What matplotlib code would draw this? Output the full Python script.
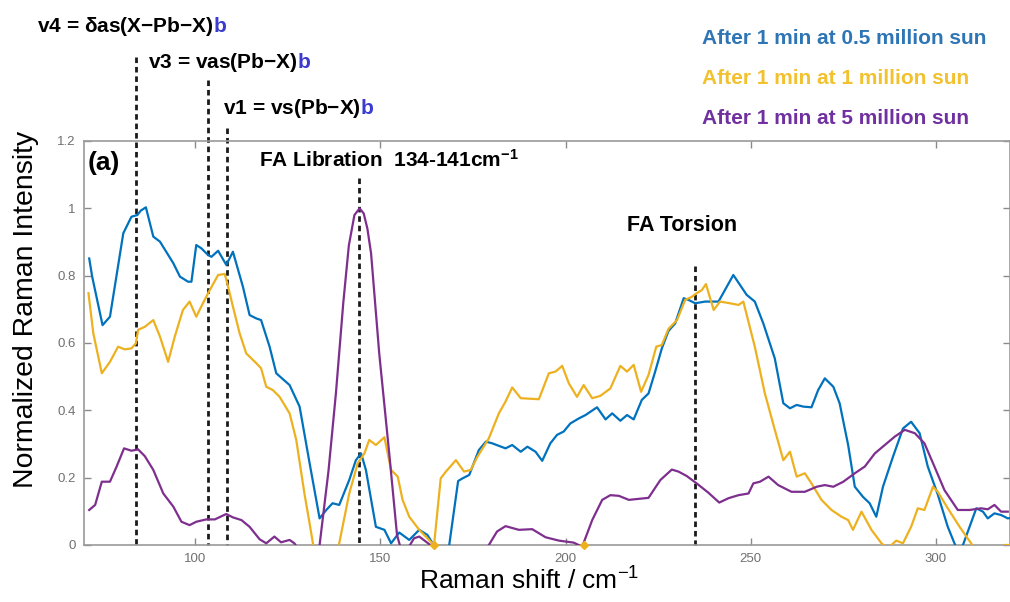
import matplotlib
matplotlib.use("Agg")
import matplotlib.pyplot as plt

plt.rcParams['font.family'] = ['Liberation Sans', 'DejaVu Sans']
plt.rcParams['mathtext.fontset'] = 'custom'
plt.rcParams['mathtext.rm'] = 'Liberation Sans'
plt.rcParams['mathtext.bf'] = 'Liberation Sans:bold'
plt.rcParams['mathtext.default'] = 'regular'

# ---- spectra -------------------------------------------------------------
x_05sun = [71.4, 72.2, 75.0, 77.0, 80.6, 82.8, 84.4, 85.3, 86.7, 88.7, 90.5, 94.1, 95.9, 98.1,
           99.0, 100.3, 101.7, 103.5, 104.4, 106.2, 108.4, 110.2, 112.9, 114.7, 116.5, 117.8,
           120.1, 121.9, 125.5, 128.2, 130.9, 133.6, 135.4, 137.1, 138.9, 141.6, 143.4, 144.8,
           146.1, 148.8, 151.1, 152.9, 155.1, 157.8, 160.5, 162.7, 164.1, 166.3, 168.6, 171.0,
           172.2, 174.0, 176.6, 178.5, 180.2, 183.8, 185.6, 187.9, 189.7, 191.9, 193.7, 195.9,
           197.7, 199.5, 201.3, 203.6, 205.4, 208.5, 210.8, 212.6, 214.8, 216.6, 218.4, 220.6,
           222.4, 224.2, 226.0, 227.8, 229.6, 231.9, 233.2, 235.0, 237.7, 241.3, 245.3, 248.9,
           251.1, 253.4, 256.5, 258.8, 260.6, 262.4, 264.2, 266.4, 268.2, 270.0, 272.3, 274.0,
           276.3, 278.1, 280.3, 282.1, 283.9, 285.7, 288.4, 291.1, 293.3, 295.6, 297.8, 300.5,
           303.2, 305.0, 306.2, 307.3, 310.9, 312.7, 314.0, 315.8, 317.6, 319.4, 320.0]
y_05sun = [0.851, 0.797, 0.653, 0.678, 0.926, 0.975, 0.980, 0.993, 1.003, 0.916, 0.901, 0.837,
           0.797, 0.782, 0.782, 0.891, 0.881, 0.861, 0.856, 0.874, 0.832, 0.871, 0.767, 0.683,
           0.673, 0.668, 0.589, 0.510, 0.475, 0.411, 0.243, 0.079, 0.104, 0.124, 0.119, 0.193,
           0.252, 0.272, 0.223, 0.054, 0.045, 0.005, 0.037, 0.015, 0.045, 0.030, 0.005, -0.05,
           0.0, 0.190, 0.198, 0.208, 0.282, 0.307, 0.302, 0.287, 0.297, 0.277, 0.292, 0.277,
           0.250, 0.302, 0.327, 0.337, 0.361, 0.376, 0.386, 0.409, 0.373, 0.391, 0.369, 0.386,
           0.373, 0.431, 0.450, 0.515, 0.584, 0.636, 0.658, 0.733, 0.728, 0.718, 0.723, 0.723,
           0.802, 0.743, 0.723, 0.658, 0.554, 0.421, 0.406, 0.416, 0.411, 0.409, 0.460, 0.495,
           0.470, 0.421, 0.297, 0.173, 0.143, 0.124, 0.084, 0.173, 0.262, 0.346, 0.366, 0.332,
           0.233, 0.150, 0.054, 0.005, -0.03, 0.0, 0.109, 0.099, 0.079, 0.094, 0.089, 0.079, 0.080]

x_1sun = [71.2, 72.5, 74.8, 77.0, 79.2, 81.0, 82.8, 84.0, 84.6, 86.4, 88.7, 90.5, 92.7, 94.5,
          96.7, 98.5, 100.3, 102.1, 103.5, 106.2, 108.0, 108.9, 110.2, 112.0, 113.8, 116.5,
          117.8, 119.2, 121.0, 122.8, 125.5, 127.3, 129.5, 130.9, 131.8, 133.5, 136.5, 138.9,
          141.6, 143.9, 145.7, 147.0, 148.8, 151.1, 152.9, 154.7, 156.0, 157.8, 160.5, 162.7,
          164.5, 166.3, 167.7, 170.4, 172.6, 174.4, 176.2, 179.3, 182.0, 183.8, 185.6, 187.9,
          192.8, 195.5, 197.3, 199.1, 200.9, 203.1, 204.9, 207.2, 209.4, 212.1, 214.8, 216.6,
          218.4, 220.4, 222.4, 224.5, 226.0, 227.8, 230.1, 232.3, 234.1, 235.4, 236.8, 237.9,
          240.0, 241.7, 244.4, 246.7, 248.0, 251.1, 253.8, 256.5, 258.8, 260.6, 262.4, 264.6,
          266.4, 269.1, 271.8, 274.5, 276.3, 277.6, 279.9, 282.6, 285.3, 287.0, 289.3, 291.1,
          293.3, 295.1, 296.9, 299.2, 300.5, 303.2, 306.4, 309.5, 312.0, 316.0, 318.5, 320.0]
y_1sun = [0.748, 0.629, 0.510, 0.544, 0.589, 0.581, 0.584, 0.599, 0.639, 0.648, 0.668, 0.619,
          0.544, 0.619, 0.698, 0.723, 0.678, 0.718, 0.748, 0.802, 0.805, 0.767, 0.708, 0.629,
          0.569, 0.540, 0.525, 0.470, 0.460, 0.440, 0.391, 0.312, 0.153, 0.064, 0.005, -0.10,
          -0.10, 0.005, 0.153, 0.243, 0.272, 0.312, 0.297, 0.320, 0.223, 0.203, 0.134, 0.084,
          0.045, 0.020, 0.0, 0.198, 0.218, 0.252, 0.218, 0.223, 0.262, 0.317, 0.391, 0.426,
          0.468, 0.436, 0.433, 0.510, 0.515, 0.532, 0.480, 0.440, 0.475, 0.436, 0.443, 0.465,
          0.532, 0.515, 0.535, 0.455, 0.505, 0.589, 0.594, 0.642, 0.668, 0.728, 0.737, 0.748,
          0.757, 0.775, 0.698, 0.723, 0.718, 0.713, 0.723, 0.589, 0.451, 0.342, 0.252, 0.277,
          0.203, 0.213, 0.183, 0.134, 0.104, 0.084, 0.074, 0.045, 0.099, 0.045, 0.005, -0.01,
          0.013, 0.005, 0.054, 0.109, 0.104, 0.173, 0.158, 0.109, 0.054, 0.005, -0.05, -0.05,
          0.0, 0.0]

x_5sun = [71.4, 73.0, 74.8, 77.0, 78.8, 80.8, 82.8, 84.6, 86.4, 88.7, 91.4, 94.1, 96.3, 98.5,
          100.3, 103.0, 105.3, 108.4, 110.2, 112.5, 114.7, 117.4, 119.2, 121.4, 123.2, 125.5,
          126.8, 130.0, 133.6, 136.0, 138.0, 140.0, 141.5, 143.0, 144.4, 145.5, 146.5, 147.5,
          149.7, 152.4, 154.5, 156.0, 158.0, 159.1, 160.5, 162.3, 163.5, 170.0, 178.0, 179.3,
          181.5, 183.8, 187.4, 191.0, 194.6, 198.2, 202.2, 204.5, 207.2, 209.9, 212.1, 214.4,
          217.1, 219.7, 222.4, 225.6, 228.7, 230.5, 232.7, 235.4, 238.6, 241.5, 244.0, 246.7,
          249.4, 250.7, 252.5, 254.8, 257.4, 261.0, 264.6, 267.8, 270.0, 272.3, 275.0, 278.1,
          280.8, 283.5, 286.2, 288.9, 291.6, 294.3, 296.9, 299.6, 302.3, 305.9, 309.1, 312.2,
          314.0, 315.8, 317.6, 319.4]
y_5sun = [0.104, 0.119, 0.188, 0.188, 0.233, 0.287, 0.280, 0.284, 0.264, 0.223, 0.153, 0.114,
          0.069, 0.059, 0.069, 0.076, 0.076, 0.092, 0.082, 0.074, 0.054, 0.017, 0.005, 0.025,
          0.008, 0.015, 0.005, -0.05, 0.0, 0.22, 0.45, 0.72, 0.89, 0.98, 1.0, 0.985, 0.94,
          0.866, 0.569, 0.272, 0.03, -0.03, 0.0, 0.020, 0.025, 0.010, 0.0, -0.05, -0.02, 0.0,
          0.040, 0.056, 0.045, 0.047, 0.023, 0.013, 0.007, -0.005, 0.074, 0.134, 0.148, 0.146,
          0.134, 0.137, 0.140, 0.193, 0.224, 0.218, 0.205, 0.183, 0.155, 0.126, 0.139, 0.148,
          0.153, 0.183, 0.188, 0.203, 0.178, 0.158, 0.158, 0.173, 0.178, 0.173, 0.188, 0.213,
          0.233, 0.272, 0.297, 0.322, 0.342, 0.332, 0.302, 0.233, 0.163, 0.104, 0.104, 0.109,
          0.106, 0.119, 0.099, 0.099]

zero_marker_x = [164.5, 205.0]

series_labels = ["After 1 min at 0.5 million sun",
                 "After 1 min at 1 million sun",
                 "After 1 min at 5 million sun"]
line_colors = ["#0072BD", "#EDB120", "#7E2F8E"]
label_colors = ["#2E75B6", "#F2C12E", "#7030A0"]

# band assignments: (position, top of the marker line)
band_x = [84.1, 103.4, 108.7, 144.3, 235.0]
band_top = [1.45, 1.38, 1.24, 1.09, 0.83]
mode_labels = [r"v4 = δas(X$-$Pb$-$X)", r"v3 = vas(Pb$-$X)", r"v1 = vs(Pb$-$X)"]

x_ticks = [100, 150, 200, 250, 300]
y_ticks = [0, 0.2, 0.4, 0.6, 0.8, 1.0, 1.2]
y_tick_labels = ["0", "0.2", "0.4", "0.6", "0.8", "1", "1.2"]

W, H = 1010, 602

# ---- figure ---------------------------------------------------------------
fig = plt.figure(figsize=(W / 100, H / 100), dpi=100)
ax = fig.add_axes([0.0832, 0.0947, 0.9168, 0.6711])

for xs, ys, c in zip([x_05sun, x_1sun, x_5sun], [y_05sun, y_1sun, y_5sun], line_colors):
    ax.plot(xs, ys, color=c, lw=1.6, zorder=3)
ax.plot(zero_marker_x, [0] * len(zero_marker_x), ls='none', marker='D', ms=4,
        color=line_colors[1], zorder=4, clip_on=False)

for bx, bt in zip(band_x, band_top):
    ax.plot([bx, bx], [bt, 0], color='#1a1a1a', lw=2.0, ls=(0, (2.0, 1.4)),
            clip_on=False, zorder=2)

ax.set_xlim(70, 320)
ax.set_ylim(0, 1.2)
ax.set_xticks(x_ticks)
ax.set_xticklabels([str(t) for t in x_ticks])
ax.set_yticks(y_ticks)
ax.set_yticklabels(y_tick_labels)
ax.tick_params(direction='in', length=5, width=1.0, color='#8a8a8a', labelcolor='#707070',
               labelsize=9.5, top=True, right=True, pad=6)
for s in ax.spines.values():
    s.set_color('#9a9a9a')
    s.set_linewidth(1.2)

ax.set_xlabel(r"Raman shift / cm$^{-1}$", fontsize=19)
ax.set_ylabel("Normalized Raman Intensity", fontsize=20.4)
ax.xaxis.set_label_coords(0.4806, -0.0545)
ax.yaxis.set_label_coords(-0.049, 0.582)

# mode annotations in figure pixels (bold black with blue suffix)
blue_b = "#3b3bd0"
mode_pos = [(37, 26), (148, 63), (223, 109)]
fig.canvas.draw()
for (px, py), txt in zip(mode_pos, mode_labels):
    t = fig.text(px / W, 1 - py / H, txt, fontsize=15, fontweight='bold',
                 ha='left', va='center', color='black')
    ax.annotate("b", xy=(1.0, 0.5), xycoords=t, va='center', ha='left', fontsize=15,
                fontweight='bold', color=blue_b, annotation_clip=False)

fig.text(88 / W, 1 - 163 / H, "(a)", fontsize=19, fontweight='bold', ha='left', va='center')
fig.text(389 / W, 1 - 160 / H, r"FA Libration  134-141cm$^{\mathbf{-1}}$",
         fontsize=15, fontweight='bold', ha='center', va='center')
fig.text(682 / W, 1 - 225 / H, "FA Torsion", fontsize=15.5, fontweight='bold',
         ha='center', va='center')

legend_y = [38, 78, 118]
for lbl, col, ly in zip(series_labels, label_colors, legend_y):
    fig.text(702 / W, 1 - ly / H, lbl, fontsize=15, fontweight='bold', color=col,
             ha='left', va='center')

fig.savefig("out.png", dpi=100)
